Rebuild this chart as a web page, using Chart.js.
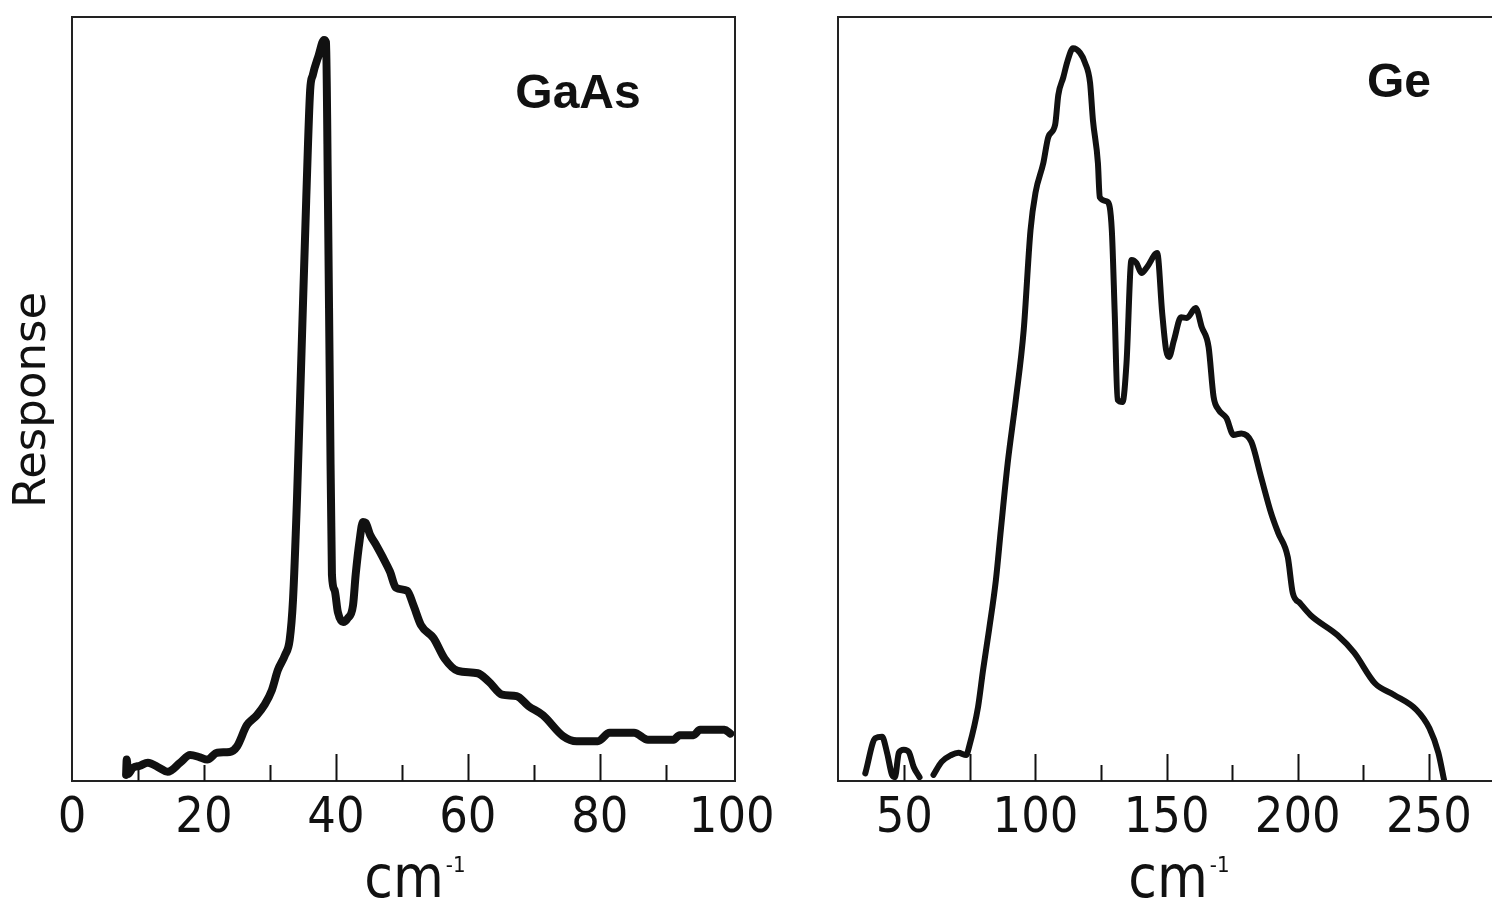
<!DOCTYPE html>
<html>
<head>
<meta charset="utf-8">
<script src="https://cdn.jsdelivr.net/npm/chart.js@4.4.0/dist/chart.umd.min.js"></script>
<style>
  html, body { margin: 0; padding: 0; background: #fff; overflow: hidden; }
  body { width: 1492px; height: 903px; position: relative; }
  canvas { position: absolute; top: 0; }
  #gaasChart { left: 0; }
  #geChart { left: 760px; }
</style>
</head>
<body>
<canvas id="gaasChart" width="800" height="903"></canvas>
<canvas id="geChart" width="760" height="903"></canvas>
<script>
// GaAs response spectrum (wavenumber in cm-1, response in arbitrary units)
const gaasX = [8.2, 8.3, 8.5, 9.2, 10.3, 11.5, 13.3, 14.5, 16.4, 17.9, 19.4, 20.5, 22.0, 23.9, 25.0,
  26.5, 28.0, 29.2, 30.3, 31.2, 32.3, 33.0, 33.5, 34.1, 34.8, 35.5, 36.1, 36.5, 37.4, 38.2, 38.5,
  38.8, 39.1, 39.4, 39.8, 40.3, 41.1, 41.8, 42.6, 43.0, 43.6, 44.1, 44.5, 45.2, 46.1, 47.1, 48.2,
  49.1, 50.8, 51.8, 52.9, 54.8, 56.5, 58.5, 61.5, 63.2, 65.2, 67.4, 69.2, 71.4, 74.4, 76.5, 79.7,
  81.5, 85.2, 87.3, 91.2, 92.1, 94.2, 95.2, 98.9, 99.8];
const gaasY = [0.8, 2.8, 0.9, 1.7, 2.0, 2.4, 1.7, 1.2, 2.4, 3.4, 3.1, 2.8, 3.7, 3.8, 4.5,
  7.3, 8.6, 10.0, 11.9, 14.5, 16.5, 18.5, 23.7, 36.8, 56.4, 76.0, 90.4, 92.4, 95.0, 97.0, 96.7,
  76.0, 49.9, 27.0, 25.0, 22.1, 20.8, 21.3, 23.0, 27.0, 31.5, 33.9, 33.8, 32.2, 30.9, 29.3, 27.4,
  25.3, 24.9, 22.9, 20.4, 18.7, 16.0, 14.4, 14.1, 13.0, 11.3, 11.1, 9.8, 8.6, 5.9, 5.2, 5.2,
  6.3, 6.3, 5.4, 5.4, 6.0, 6.0, 6.7, 6.7, 6.2];

// Ge response spectrum; null marks the break in the trace near 58 cm-1
const geX = [35.1, 38.9, 41.5, 43.4, 45.3, 46.4, 47.9, 49.8, 51.7, 53.6, 55.8, 58.0,
  61.1, 64.2, 67.9, 70.6, 73.6, 74.7, 78.1, 80.0, 82.3, 84.9, 86.8, 89.4, 92.5, 95.5, 98.1,
  100.0, 103.0, 104.9, 107.5, 108.7, 110.6, 112.1, 114.3, 117.0, 118.9, 120.8, 121.9, 123.8,
  124.5, 127.5, 129.1, 130.2, 131.3, 133.2, 134.7, 136.6, 138.5, 140.4, 142.6, 146.4, 148.3,
  149.8, 150.9, 152.8, 155.5, 157.7, 161.1, 163.4, 166.0, 167.9, 169.8, 172.8, 175.5, 178.5,
  182.3, 186.0, 189.8, 192.5, 196.2, 198.1, 200.8, 204.9, 215.1, 221.5, 229.4, 236.6, 245.3,
  250.2, 253.6, 255.8];
const geY = [1.0, 5.6, 5.8, 3.7, 0.8, 0.5, 3.7, 4.1, 3.8, 1.8, 0.5, null,
  0.8, 2.5, 3.4, 3.7, 3.4, 4.5, 9.7, 14.5, 19.8, 26.3, 32.9, 41.6, 49.9, 59.0, 72.1,
  77.0, 80.9, 84.3, 85.9, 89.8, 92.1, 94.1, 95.9, 95.3, 94.0, 91.4, 86.5, 80.9,
  76.4, 75.8, 72.1, 61.3, 49.9, 49.6, 54.7, 68.2, 67.8, 66.5, 67.3, 69.1, 61.3,
  56.4, 55.5, 57.7, 60.7, 60.6, 61.9, 59.4, 56.8, 50.3, 48.6, 47.5, 45.3, 45.5,
  44.4, 39.8, 35.1, 32.5, 29.3, 24.6, 23.3, 21.7, 19.1, 16.8, 12.8, 11.3, 9.3,
  6.9, 3.7, 0.1];

// axis ticks and labels
const gaasTickLabels = [0, 20, 40, 60, 80, 100];
const gaasLongTicks = [40, 60, 80];
const gaasShortTicks = [10, 20, 30, 50, 70, 90];
const geTickLabels = [50, 100, 150, 200, 250];
const geLongTicks = [75, 100, 150, 200, 250];
const geShortTicks = [50, 125, 175, 225];

const INK = '#111';
const tickFont = "'Liberation Sans Narrow', 'DejaVu Sans Condensed', sans-serif";

function toPoints(xs, ys) {
  return xs.map((x, i) => ({ x: x, y: ys[i] }));
}

// frame, inward ticks and panel text
function panelDecor(cfg) {
  return {
    id: 'panelDecor',
    afterDraw(chart) {
      const { ctx, chartArea: a } = chart;
      const xs = chart.scales.x;
      ctx.save();
      ctx.strokeStyle = '#222';
      ctx.lineWidth = 2;
      ctx.strokeRect(a.left, a.top, a.right - a.left, a.bottom - a.top);

      ctx.lineWidth = 2;
      ctx.strokeStyle = INK;
      const drawTick = (v, len) => {
        const px = Math.round(xs.getPixelForValue(v)) + 0.5;
        ctx.beginPath();
        ctx.moveTo(px, a.bottom);
        ctx.lineTo(px, a.bottom - len);
        ctx.stroke();
      };
      cfg.longTicks.forEach(v => drawTick(v, 27));
      cfg.shortTicks.forEach(v => drawTick(v, 16));

      ctx.fillStyle = INK;
      ctx.font = "bold 48px 'Liberation Sans', Arial, sans-serif";
      ctx.textAlign = 'center';
      ctx.textBaseline = 'alphabetic';
      ctx.fillText(cfg.name, cfg.nameX, cfg.nameY);

      // x axis unit: cm with superscript -1
      ctx.font = "58px " + tickFont;
      ctx.textAlign = 'center';
      ctx.fillText('cm', cfg.unitX, 897);
      const w = ctx.measureText('cm').width;
      ctx.font = "22px " + tickFont;
      ctx.textAlign = 'left';
      ctx.fillText('-1', cfg.unitX + w / 2 + 2, 872);

      if (cfg.yTitle) {
        ctx.translate(33, 400);
        ctx.rotate(-Math.PI / 2);
        ctx.font = "45px 'DejaVu Sans', sans-serif";
        ctx.textAlign = 'center';
        ctx.textBaseline = 'middle';
        ctx.fillText(cfg.yTitle, 0, 0);
      }
      ctx.restore();
    }
  };
}

function makePanel(canvasId, xs, ys, cfg) {
  const ctx = document.getElementById(canvasId).getContext('2d');
  return new Chart(ctx, {
    type: 'line',
    data: {
      datasets: [{
        data: toPoints(xs, ys),
        borderColor: INK,
        borderWidth: cfg.lineWidth,
        pointRadius: 0,
        fill: false,
        spanGaps: false,
        cubicInterpolationMode: 'monotone',
        borderJoinStyle: 'round',
        borderCapStyle: 'round'
      }]
    },
    options: {
      responsive: false,
      animation: false,
      devicePixelRatio: 1,
      layout: { padding: { left: cfg.left, right: cfg.right, top: 17, bottom: 0 } },
      plugins: { legend: { display: false }, tooltip: { enabled: false } },
      scales: {
        x: {
          type: 'linear',
          min: cfg.min,
          max: cfg.max,
          afterBuildTicks: s => { s.ticks = cfg.labels.map(v => ({ value: v })); },
          afterFit: s => {
            s.height = 122;
            s.paddingLeft = 0;
            s.paddingRight = 0;
          },
          grid: { display: false, drawTicks: false },
          border: { display: false },
          ticks: {
            color: INK,
            padding: 8,
            maxRotation: 0,
            autoSkip: false,
            font: { family: tickFont, size: 50 },
            callback: v => String(v)
          }
        },
        y: {
          display: false,
          min: 0,
          max: 100
        }
      }
    },
    plugins: [panelDecor(cfg)]
  });
}

makePanel('gaasChart', gaasX, gaasY, {
  min: 0, max: 100.5, left: 72, right: 65, lineWidth: 8,
  labels: gaasTickLabels, longTicks: gaasLongTicks, shortTicks: gaasShortTicks,
  name: 'GaAs', nameX: 578, nameY: 108, unitX: 404, yTitle: 'Response'
});

makePanel('geChart', geX, geY, {
  min: 24.7, max: 277.3, left: 78, right: 19.5, lineWidth: 6,
  labels: geTickLabels, longTicks: geLongTicks, shortTicks: geShortTicks,
  name: 'Ge', nameX: 639, nameY: 97, unitX: 408
});
</script>
</body>
</html>
